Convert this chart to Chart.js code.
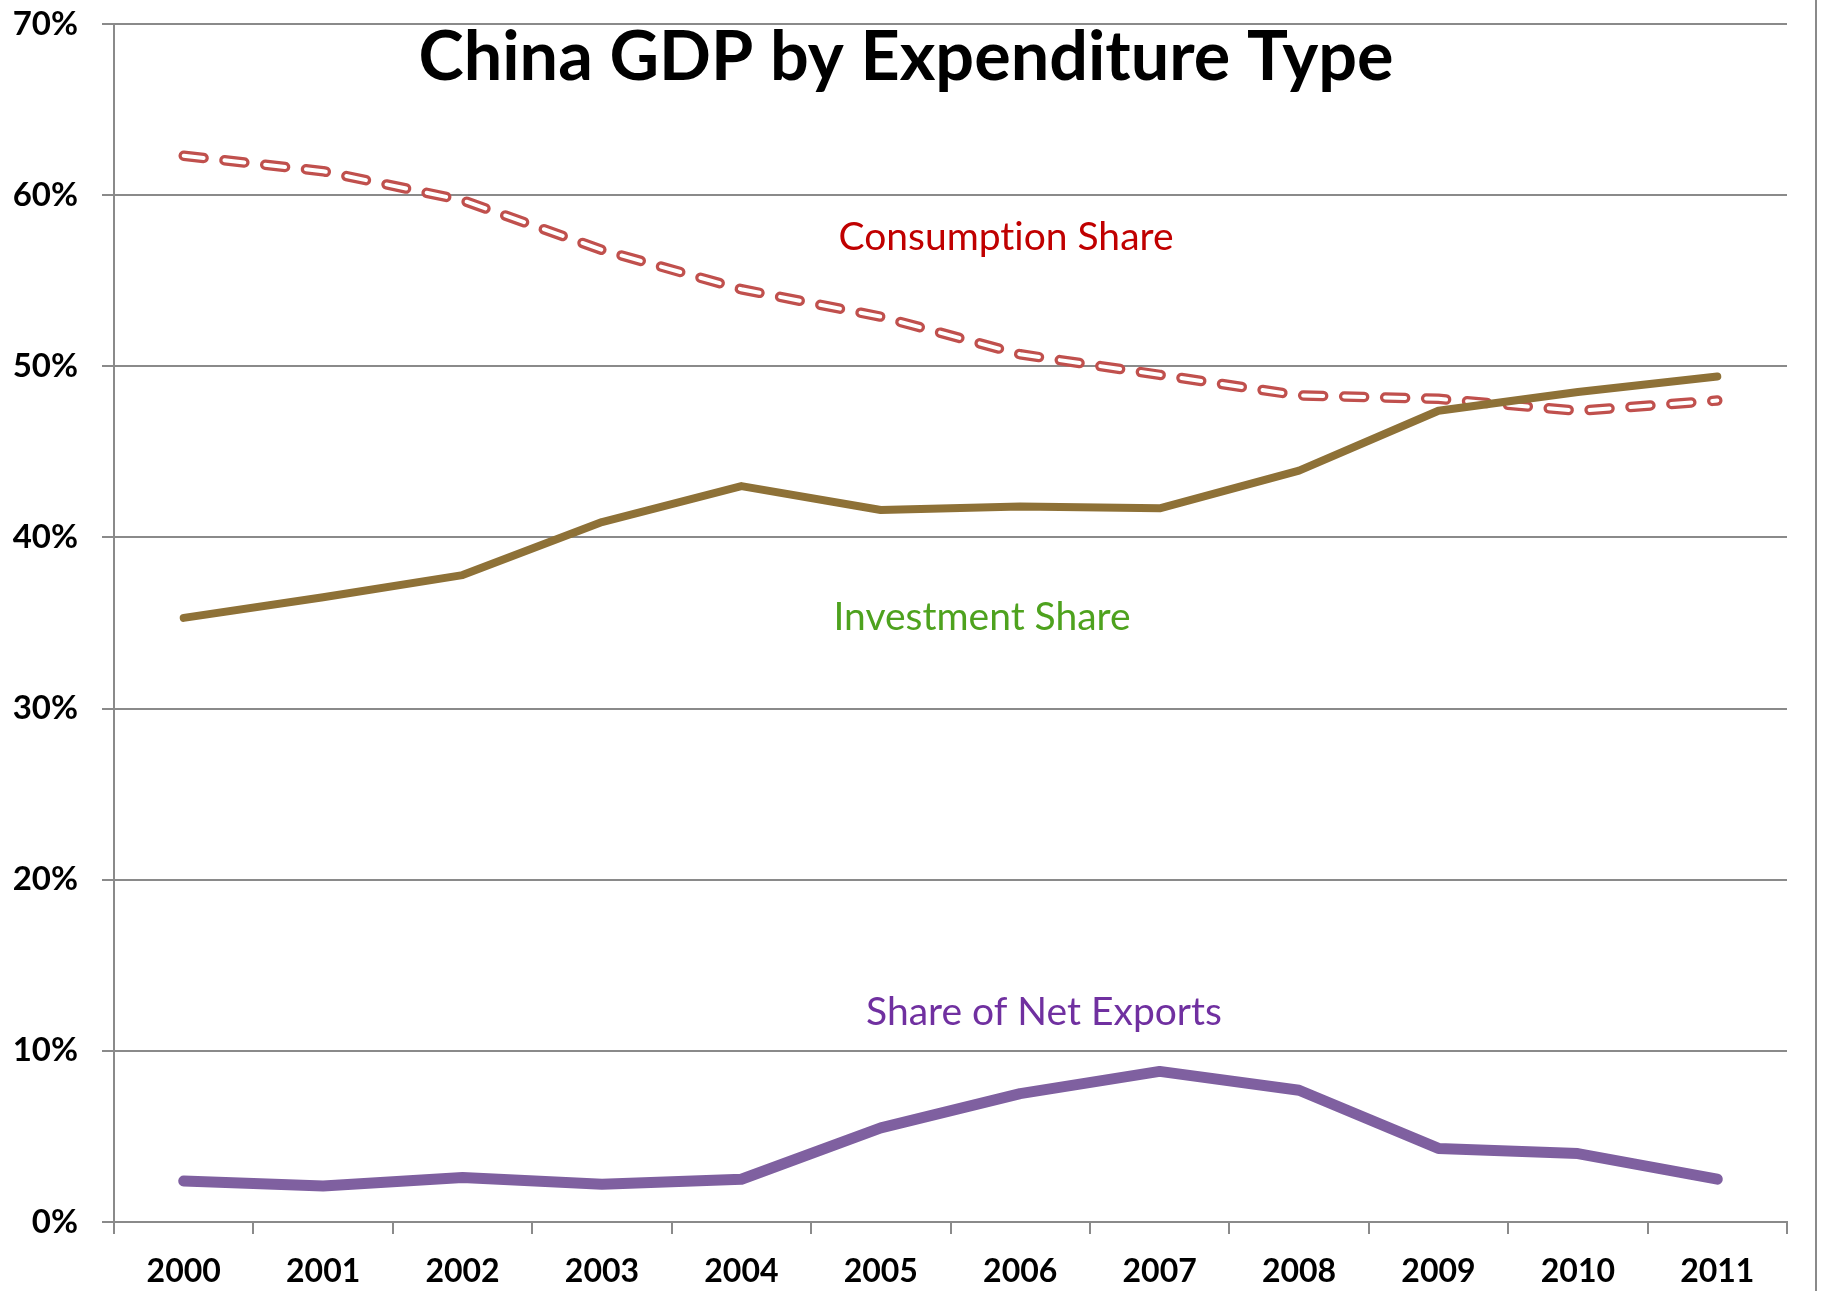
<!DOCTYPE html>
<html>
<head>
<meta charset="utf-8">
<script src="https://cdn.jsdelivr.net/npm/chart.js@4/dist/chart.umd.min.js"></script>
<style>
  html, body { margin: 0; padding: 0; background: #ffffff; }
  #wrap { width: 1830px; height: 1291px; position: relative; }
</style>
</head>
<body>
<div id="wrap"><canvas id="c" width="1830" height="1291"></canvas></div>
<script>
const years = ['2000','2001','2002','2003','2004','2005','2006','2007','2008','2009','2010','2011'];
const consumptionShare = [62.3, 61.4, 59.7, 56.8, 54.5, 52.9, 50.7, 49.5, 48.3, 48.1, 47.4, 48.0];
const investmentShare = [35.3, 36.5, 37.8, 40.9, 43.0, 41.6, 41.8, 41.7, 43.9, 47.4, 48.5, 49.4];
const netExportsShare = [2.4, 2.1, 2.6, 2.2, 2.5, 5.5, 7.5, 8.8, 7.7, 4.3, 4.0, 2.5];
const yTicks = [0, 10, 20, 30, 40, 50, 60, 70];

const titleText = 'China GDP by Expenditure Type';
const seriesLabels = [
  { text: 'Consumpt\u200Cion Share', color: '#C00000', x: 1006, y: 250 },
  { text: 'Investment Share', color: '#4EA21E', x: 982, y: 630 },
  { text: 'Share of Net Exports', color: '#7030A0', x: 1044, y: 1025 }
];

const annotate = {
  id: 'annotate',
  afterDraw(chart) {
    const ctx = chart.ctx;
    ctx.save();
    // right border line
    ctx.strokeStyle = '#8a8a8a';
    ctx.lineWidth = 2;
    ctx.beginPath();
    ctx.moveTo(1816, 0);
    ctx.lineTo(1816, 1291);
    ctx.stroke();
    // title
    ctx.fillStyle = '#000000';
    ctx.textAlign = 'center';
    ctx.textBaseline = 'alphabetic';
    ctx.font = 'bold 69px Lato';
    ctx.fillText(titleText, 906, 80, 975);
    // series labels
    ctx.font = '39px Lato';
    seriesLabels.forEach(l => {
      ctx.fillStyle = l.color;
      ctx.fillText(l.text, l.x, l.y);
    });
    ctx.restore();
  }
};

const dashPattern = [20, 21];

new Chart(document.getElementById('c'), {
  type: 'line',
  data: {
    labels: years,
    datasets: [
      {
        label: 'Investment Share',
        data: investmentShare,
        borderColor: '#8E7137',
        borderWidth: 8,
        borderCapStyle: 'round',
        borderJoinStyle: 'round',
        pointRadius: 0,
        tension: 0,
        order: -1
      },
      {
        label: 'Consumption Share inner',
        data: consumptionShare,
        borderColor: '#ffffff',
        borderWidth: 4,
        borderDash: dashPattern,
        borderCapStyle: 'round',
        borderJoinStyle: 'round',
        pointRadius: 0,
        tension: 0,
        order: 0
      },
      {
        label: 'Consumption Share',
        data: consumptionShare,
        borderColor: '#C0504D',
        borderWidth: 10.5,
        borderDash: dashPattern,
        borderCapStyle: 'round',
        borderJoinStyle: 'round',
        pointRadius: 0,
        tension: 0,
        order: 1
      },
      {
        label: 'Share of Net Exports',
        data: netExportsShare,
        borderColor: '#7F60A0',
        borderWidth: 11,
        borderCapStyle: 'round',
        borderJoinStyle: 'round',
        pointRadius: 0,
        tension: 0,
        order: 2
      }
    ]
  },
  options: {
    responsive: false,
    animation: false,
    devicePixelRatio: 1,
    layout: { padding: { left: 0, right: 43, top: 24, bottom: 0 } },
    plugins: {
      legend: { display: false },
      title: { display: false },
      tooltip: { enabled: false }
    },
    scales: {
      x: {
        type: 'category',
        offset: true,
        afterFit(scale) { scale.height = 69; scale.paddingLeft = 0; scale.paddingRight = 0; },
        grid: {
          offset: true,
          drawOnChartArea: false,
          drawTicks: true,
          tickLength: 12,
          color: '#8a8a8a',
          lineWidth: 2
        },
        border: { display: true, color: '#8a8a8a', width: 2 },
        ticks: {
          autoSkip: false,
          maxRotation: 0,
          minRotation: 0,
          padding: 18,
          color: '#000000',
          font: { family: 'Lato', size: 32, weight: 'bold' }
        }
      },
      y: {
        min: 0,
        max: 70,
        afterFit(scale) { scale.width = 114; scale.paddingTop = 0; scale.paddingBottom = 0; },
        afterBuildTicks(scale) { scale.ticks = yTicks.map(v => ({ value: v })); },
        grid: {
          drawOnChartArea: true,
          drawTicks: true,
          tickLength: 12,
          color: '#8a8a8a',
          lineWidth: 2
        },
        border: { display: true, color: '#8a8a8a', width: 2 },
        ticks: {
          padding: 24,
          color: '#000000',
          font: { family: 'Lato', size: 33, weight: 'bold' },
          callback: v => v + '%'
        }
      }
    }
  },
  plugins: [annotate]
});
</script>
</body>
</html>
